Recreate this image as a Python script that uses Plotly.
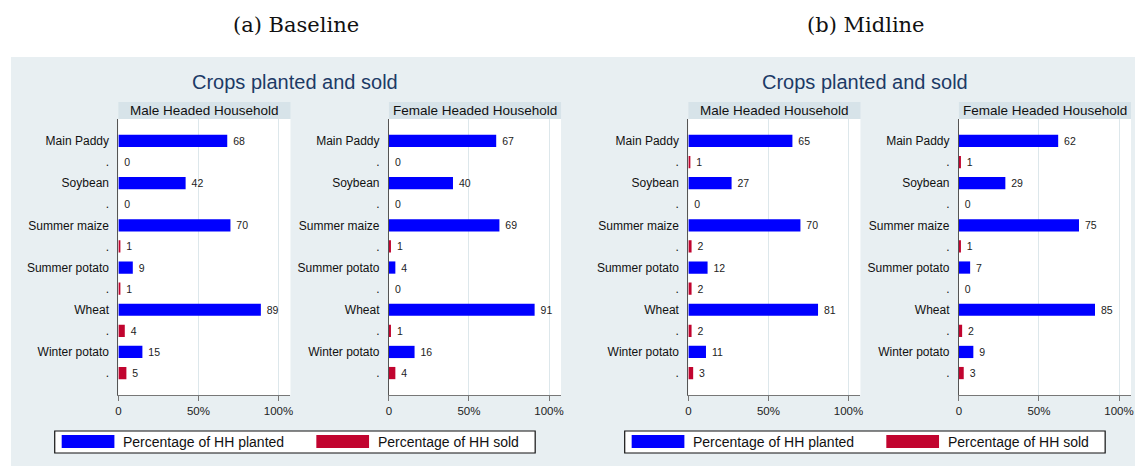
import plotly.graph_objects as go

# ---------------- data ----------------
crops = ["Main Paddy", "Soybean", "Summer maize", "Summer potato", "Wheat", "Winter potato"]

base_male_planted = [68, 42, 70, 9, 89, 15]
base_male_sold = [0, 0, 1, 1, 4, 5]
base_female_planted = [67, 40, 69, 4, 91, 16]
base_female_sold = [0, 0, 1, 0, 1, 4]

mid_male_planted = [65, 27, 70, 12, 81, 11]
mid_male_sold = [1, 0, 2, 2, 2, 3]
mid_female_planted = [62, 29, 75, 7, 85, 9]
mid_female_sold = [1, 0, 1, 0, 2, 3]

panel_titles = ["(a) Baseline", "(b) Midline"]
chart_title = "Crops planted and sold"
group_titles = ["Male Headed Household", "Female Headed Household"]
series_names = ["Percentage of HH planted", "Percentage of HH sold"]
x_tickvals = [0, 50, 100]
x_ticktext = ["0", "50%", "100%"]

# ---------------- style ----------------
W, H = 1138, 466
BLUE = "#0000ff"
RED = "#c1042f"
BG = "#e8eff2"
STRIP = "#d7e3e9"
TITLE_COL = "#1c3a66"
FONT = "Liberation Sans"


def px(x):
    return x / W


def py(y):
    return 1 - y / H


# subplot geometry (pixels)
PANEL_SHIFT = 573
plot_lefts = [116, 388]
plot_width = 173
plot_top, plot_bot = 119, 395
strip_top = 102

fig = go.Figure()
shapes = []
annotations = []

# background of the panels
shapes.append(dict(type="rect", xref="paper", yref="paper", x0=px(8), x1=1.0,
                   y0=0, y1=py(57), fillcolor=BG, line=dict(width=0), layer="below"))

panels = [
    [(base_male_planted, base_male_sold), (base_female_planted, base_female_sold)],
    [(mid_male_planted, mid_male_sold), (mid_female_planted, mid_female_sold)],
]

# category positions: planted row, then sold row (label ".")
ypos_planted = [2 * i for i in range(len(crops))]
ypos_sold = [2 * i + 1 for i in range(len(crops))]
tickvals = []
ticktext = []
for i, c in enumerate(crops):
    tickvals += [2 * i, 2 * i + 1]
    ticktext += [c, "."]

ax_idx = 0
for p, panel in enumerate(panels):
    off = p * PANEL_SHIFT
    for g, (planted, sold) in enumerate(panel):
        ax_idx += 1
        xa = "x" if ax_idx == 1 else f"x{ax_idx}"
        ya = "y" if ax_idx == 1 else f"y{ax_idx}"
        xl = off + plot_lefts[g]
        xr = xl + plot_width
        dom_x = [px(xl), px(xr)]
        dom_y = [py(plot_bot), py(plot_top)]

        # white plot area + strip header
        shapes.append(dict(type="rect", xref="paper", yref="paper", x0=dom_x[0], x1=dom_x[1],
                           y0=dom_y[0], y1=dom_y[1], fillcolor="white",
                           line=dict(width=0), layer="below"))
        shapes.append(dict(type="rect", xref="paper", yref="paper", x0=dom_x[0], x1=dom_x[1],
                           y0=py(plot_top), y1=py(strip_top), fillcolor=STRIP,
                           line=dict(width=0), layer="below"))
        annotations.append(dict(text=group_titles[g], xref="paper", yref="paper",
                                x=(dom_x[0] + dom_x[1]) / 2, y=py((strip_top + plot_top) / 2),
                                xanchor="center", yanchor="middle", showarrow=False,
                                font=dict(family=FONT, size=13.5, color="#111111")))

        for vals, ys, col, name in [(planted, ypos_planted, BLUE, series_names[0]),
                                    (sold, ypos_sold, RED, series_names[1])]:
            fig.add_trace(go.Bar(
                x=vals, y=ys, orientation="h", width=0.58,
                marker=dict(color=col, line=dict(width=0)),
                text=vals, texttemplate="\u00a0%{text}", textposition="outside",
                constraintext="none", cliponaxis=False,
                textfont=dict(family=FONT, size=10.5, color="#222222"),
                name=name, showlegend=False, xaxis=xa, yaxis=ya,
                hoverinfo="skip",
            ))

        fig.layout[("xaxis" if ax_idx == 1 else f"xaxis{ax_idx}")] = dict(
            domain=dom_x, anchor=ya, range=[0, 107.5],
            tickvals=x_tickvals, ticktext=x_ticktext,
            showgrid=True, gridcolor="#dde7eb", gridwidth=1,
            zeroline=False, showline=True, linecolor="#777777", linewidth=1,
            ticks="outside", ticklen=5, tickcolor="#777777",
            tickfont=dict(family=FONT, size=11.5, color="#222222"),
            fixedrange=True,
        )
        fig.layout[("yaxis" if ax_idx == 1 else f"yaxis{ax_idx}")] = dict(
            domain=dom_y, anchor=xa, range=[11 + 1.04, -1.04],
            tickvals=tickvals, ticktext=ticktext,
            showgrid=False, zeroline=False, showline=True,
            linecolor="#555555", linewidth=1, ticks="",
            ticklabelstandoff=6,
            tickfont=dict(family=FONT, size=12, color="#111111"),
            fixedrange=True,
        )

    # titles
    annotations.append(dict(text=panel_titles[p], xref="paper", yref="paper",
                            x=px(295 + off), y=py(25), xanchor="center", yanchor="middle",
                            showarrow=False,
                            font=dict(family="DejaVu Serif", size=21, color="#111111")))
    annotations.append(dict(text=chart_title, xref="paper", yref="paper",
                            x=px(294 + off), y=py(82), xanchor="center", yanchor="middle",
                            showarrow=False,
                            font=dict(family=FONT, size=20, color=TITLE_COL)))

    # legend box
    shapes.append(dict(type="rect", xref="paper", yref="paper", x0=px(52 + off), x1=px(535 + off),
                       y0=py(453), y1=py(431), fillcolor="white",
                       line=dict(color="#111111", width=1.2)))
    for sx, col, name in [(59, BLUE, series_names[0]), (315, RED, series_names[1])]:
        shapes.append(dict(type="rect", xref="paper", yref="paper",
                           x0=px(sx + off), x1=px(sx + 53 + off),
                           y0=py(448), y1=py(435), fillcolor=col, line=dict(width=0)))
        annotations.append(dict(text=name, xref="paper", yref="paper",
                                x=px(sx + 60 + off), y=py(441.5), xanchor="left", yanchor="middle",
                                showarrow=False,
                                font=dict(family=FONT, size=14, color="#111111")))

fig.update_layout(
    width=W, height=H, margin=dict(l=0, r=0, t=0, b=0),
    paper_bgcolor="white", plot_bgcolor="rgba(0,0,0,0)",
    barmode="overlay", showlegend=False,
    shapes=shapes, annotations=annotations,
    font=dict(family=FONT),
)

fig.write_html(
    "out.html",
    config={"displayModeBar": False},
    post_script="document.body.style.margin='0';document.body.style.overflow='hidden';",
)
